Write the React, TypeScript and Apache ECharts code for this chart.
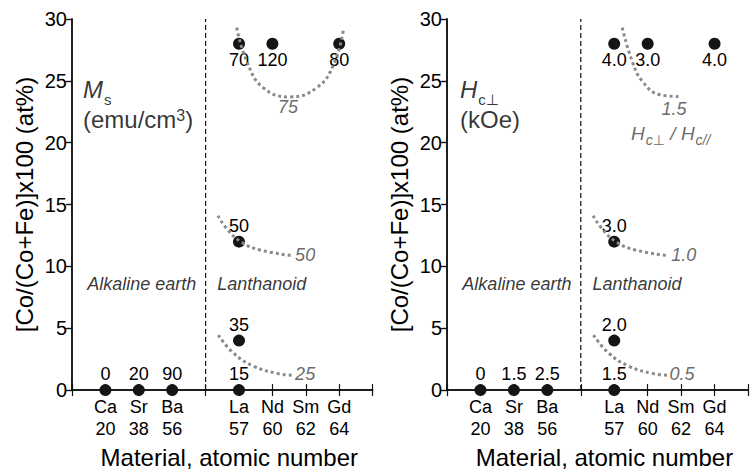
import React, { useEffect, useRef } from "react";
import * as echarts from "echarts";

const FONT = "'Liberation Sans', Arial, 'DejaVu Sans', sans-serif";

// x-axis categories (materials) and their slot on the axis
const elementNames = ["Ca", "Sr", "Ba", "La", "Nd", "Sm", "Gd"];
const atomicNumbers = [20, 38, 56, 57, 60, 62, 64];
const elementSlots = [1, 2, 3, 5, 6, 7, 8];
const dividerSlot = 4;

// y tick range
const yMin = 0;
const yMax = 30;
const yStep = 5;

// measured samples
const sampleElement = ["Ca", "Sr", "Ba", "La", "La", "La", "La", "Nd", "Gd"];
const sampleCo = [0, 0, 0, 0, 4, 12, 28, 28, 28];
const msValues = ["0", "20", "90", "15", "35", "50", "70", "120", "80"];
const hcValues = ["0", "1.5", "2.5", "1.5", "2.0", "3.0", "4.0", "3.0", "4.0"];

// dotted guide curves (Ms contours)
const msCurve75 = [[4.93, 29.3], [5.23, 26.6], [5.72, 24.45], [6.53, 23.7], [7.33, 24.45], [7.83, 26.3], [8.13, 29.2]];
const msCurve50 = [[4.37, 14.1], [4.63, 13.06], [5.05, 12.0], [5.63, 11.33], [6.58, 10.88]];
const msCurve25 = [[4.38, 4.45], [4.83, 3.0], [5.43, 1.94], [6.13, 1.35], [6.58, 1.2]];
const msCurveLabels = ["75", "50", "25"];
const msCurveLabelPos = [[6.47, 22.9], [6.98, 10.93], [6.98, 1.27]];

// dotted guide curves (Hc ratio contours)
const hcCurve15 = [[5.24, 29.3], [5.54, 26.56], [5.84, 24.97], [6.34, 23.9], [6.99, 23.72]];
const hcCurve10 = [[4.37, 14.1], [4.63, 13.06], [5.05, 12.0], [5.63, 11.33], [6.58, 10.88]];
const hcCurve05 = [[4.38, 4.45], [4.83, 3.0], [5.43, 1.94], [6.13, 1.35], [6.58, 1.2]];
const hcCurveLabels = ["1.5", "1.0", "0.5"];
const hcCurveLabelPos = [[6.79, 22.7], [7.08, 10.9], [7.03, 1.27]];

// group annotations
const groupNames = ["Alkaline earth", "Lanthanoid"];
const groupPos = [[2.09, 8.6], [5.68, 8.6]];

const xAxisName = "Material, atomic number";
const yAxisName = "[Co/(Co+Fe)]x100 (at%)";

const TEXT = "#000";
const CURVE = "#8a8a8a";
const NOTE = "#444";

function buildPanel(
  gi: number,
  values: string[],
  curves: number[][][],
  curveLabels: string[],
  curveLabelPos: number[][],
  quantityLabel: any,
  extraNotes: any[]
) {
  const xi = gi * 2;
  const yi = gi * 2;
  const series: any[] = [];
  series.push({
    type: "line",
    xAxisIndex: xi,
    yAxisIndex: yi,
    data: [[dividerSlot, yMin], [dividerSlot, yMax]],
    symbol: "none",
    silent: true,
    lineStyle: { color: "#111", width: 1.2, type: [5, 3] },
  });
  series.push({
    type: "scatter",
    xAxisIndex: xi,
    yAxisIndex: yi,
    symbolSize: 12,
    itemStyle: { color: "#151515", opacity: 1 },
    z: 3,
    data: sampleElement.map((e, i) => ({
      value: [elementSlots[elementNames.indexOf(e)], sampleCo[i]],
      label: {
        show: true,
        position: sampleCo[i] >= 25 ? "bottom" : "top",
        distance: 1,
        formatter: values[i],
        fontSize: 18,
        fontFamily: FONT,
        color: TEXT,
      },
    })),
  });
  curves.forEach((c) => {
    series.push({
      type: "line",
      xAxisIndex: xi,
      yAxisIndex: yi,
      data: c,
      smooth: 0.45,
      symbol: "none",
      silent: true,
      lineStyle: { color: CURVE, width: 3, type: "dotted", cap: "butt" },
      z: 4,
    });
  });
  const notes: any[] = [];
  curveLabels.forEach((t, i) => {
    notes.push({
      value: curveLabelPos[i],
      label: {
        show: true,
        position: "inside",
        formatter: t,
        fontSize: 18,
        fontStyle: "italic",
        fontFamily: FONT,
        color: NOTE,
      },
    });
  });
  groupNames.forEach((t, i) => {
    notes.push({
      value: groupPos[i],
      label: {
        show: true,
        position: "inside",
        formatter: t,
        fontSize: 18,
        fontStyle: "italic",
        fontFamily: FONT,
        color: TEXT,
      },
    });
  });
  notes.push(quantityLabel);
  extraNotes.forEach((n) => notes.push(n));
  series.push({
    type: "scatter",
    xAxisIndex: xi,
    yAxisIndex: yi,
    symbolSize: 0,
    silent: true,
    z: 5,
    itemStyle: { color: "transparent" },
    data: notes,
  });
  return series;
}

const richBig = (size: number, color: string) => ({
  it: { fontSize: size, fontStyle: "italic", fontFamily: FONT, color, lineHeight: 30, verticalAlign: "top" },
  rg: { fontSize: size, fontFamily: FONT, color, lineHeight: 28, verticalAlign: "top" },
  sub: { fontSize: 15, fontFamily: FONT, color, lineHeight: 10, padding: [14, 0, 0, 1], verticalAlign: "top" },
  sup: { fontSize: 16, fontFamily: FONT, color, lineHeight: 14, verticalAlign: "top" },
});

export default function App() {
  const ref = useRef<HTMLDivElement>(null);
  useEffect(() => {
    document.body.style.margin = "0";
    const chart = echarts.init(ref.current!, null, { renderer: "svg" });
    const grids = [
      { left: 72, top: 19, width: 300.6, height: 378.7 },
      { left: 447, top: 19, width: 301, height: 378.7 },
    ];
    const xAxes: any[] = [];
    const yAxes: any[] = [];
    const axisLine = { show: true, lineStyle: { color: "#111", width: 1.5 } };
    const tickStyle = { color: "#111", width: 1.2 };
    grids.forEach((g, gi) => {
      xAxes.push({
        type: "value",
        gridIndex: gi,
        position: "bottom",
        min: 0,
        max: 9,
        interval: 1,
        axisLine,
        axisTick: { show: true, inside: true, length: 6, lineStyle: tickStyle },
        splitLine: { show: false },
        axisLabel: {
          show: true,
          margin: 6,
          fontSize: 18,
          lineHeight: 22,
          fontFamily: FONT,
          color: TEXT,
          formatter: (v: number) => {
            const i = elementSlots.indexOf(v);
            return i < 0 ? "" : `${elementNames[i]}\n${atomicNumbers[i]}`;
          },
        },
        name: xAxisName,
        nameLocation: "middle",
        nameGap: 49,
        nameTextStyle: { fontSize: 24, fontFamily: FONT, color: TEXT, padding: [0, 0, 0, 14] },
      });
      xAxes.push({
        type: "value",
        gridIndex: gi,
        position: "top",
        min: 0,
        max: 9,
        interval: 1,
        axisLine,
        axisTick: { show: true, inside: true, length: 6, lineStyle: tickStyle },
        axisLabel: { show: false },
        splitLine: { show: false },
      });
      yAxes.push({
        type: "value",
        gridIndex: gi,
        position: "left",
        min: yMin,
        max: yMax,
        interval: yStep,
        axisLine,
        axisTick: { show: true, inside: false, length: 5, lineStyle: tickStyle },
        splitLine: { show: false },
        axisLabel: { show: true, margin: 5, fontSize: 20, fontFamily: FONT, color: TEXT },
        name: yAxisName,
        nameLocation: "middle",
        nameGap: 36,
        nameTextStyle: { fontSize: 24, fontFamily: FONT, color: TEXT },
      });
      yAxes.push({
        type: "value",
        gridIndex: gi,
        position: "right",
        min: yMin,
        max: yMax,
        interval: yStep,
        axisLine,
        axisTick: { show: true, inside: true, length: 6, lineStyle: tickStyle },
        axisLabel: { show: false },
        splitLine: { show: false },
      });
    });

    const msLabel = {
      value: [0.33, 22.9],
      label: {
        show: true,
        position: "inside",
        align: "left",
        verticalAlign: "middle",
        formatter: "{it|M}{sub|s}\n{rg|(emu/cm}{sup|3}{rg|)}",
        rich: richBig(24, TEXT),
      },
    };
    const hcLabel = {
      value: [0.39, 22.9],
      label: {
        show: true,
        position: "inside",
        align: "left",
        verticalAlign: "middle",
        formatter: "{it|H}{sub|c⊥}\n{rg|(kOe)}",
        rich: richBig(24, TEXT),
      },
    };
    const ratioLabel = {
      value: [6.69, 20.7],
      label: {
        show: true,
        position: "inside",
        formatter: "{it|H}{sub|c⊥}{it| / H}{sub|c//}",
        rich: {
          it: { fontSize: 19, fontStyle: "italic", fontFamily: FONT, color: NOTE, lineHeight: 20, verticalAlign: "top" },
          sub: { fontSize: 14, fontStyle: "italic", fontFamily: FONT, color: NOTE, lineHeight: 8, padding: [9, 0, 0, 1], verticalAlign: "top" },
        },
      },
    };

    const series = [
      ...buildPanel(0, msValues, [msCurve75, msCurve50, msCurve25], msCurveLabels, msCurveLabelPos, msLabel, []),
      ...buildPanel(1, hcValues, [hcCurve15, hcCurve10, hcCurve05], hcCurveLabels, hcCurveLabelPos, hcLabel, [ratioLabel]),
    ];

    chart.setOption({
      animation: false,
      backgroundColor: "#fff",
      textStyle: { fontFamily: FONT },
      grid: grids,
      xAxis: xAxes,
      yAxis: yAxes,
      series,
    });
    return () => chart.dispose();
  }, []);
  return <div ref={ref} style={{ width: 752, height: 474 }} />;
}
